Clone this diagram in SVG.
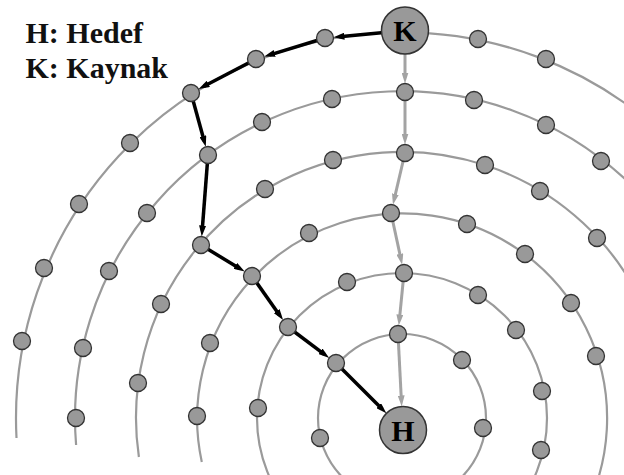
<svg xmlns="http://www.w3.org/2000/svg" width="624" height="475" viewBox="0 0 624 475">
  <style>
    .ring { fill: none; stroke: #9a9a9a; stroke-width: 2.2; }
    .blk { fill: none; stroke: #000; stroke-width: 3.5; marker-end: url(#headBlack); }
    .gry { fill: none; stroke: #a3a3a3; stroke-width: 3; marker-end: url(#headGray); }
    .n { fill: #999; stroke: #333; stroke-width: 1.3; }
    .big { fill: #999; stroke: #333; stroke-width: 1.5; }
    .bigtxt { font-family: "Liberation Serif", "Times New Roman", serif; font-weight: bold; font-size: 30px; fill: #000; text-anchor: middle; }
    .lbl { font-family: "Liberation Serif", "Times New Roman", serif; font-weight: bold; font-size: 30px; fill: #111; }
  </style>
  <defs>
    <marker id="headBlack" viewBox="0 0 11 7" refX="5" refY="3.5" markerWidth="11" markerHeight="7" markerUnits="userSpaceOnUse" orient="auto">
      <path d="M0,0 L11,3.5 L0,7 z" fill="#000"/>
    </marker>
    <marker id="headGray" viewBox="0 0 11 7" refX="5" refY="3.5" markerWidth="11" markerHeight="7" markerUnits="userSpaceOnUse" orient="auto">
      <path d="M0,0 L11,3.5 L0,7 z" fill="#a3a3a3"/>
    </marker>
  </defs>

  <rect width="624" height="475" fill="#fff"/>

  <!-- concentric rings around (402,418) -->
  <g id="rings">
    <circle class="ring" cx="402" cy="418" r="84"/>
    <circle class="ring" cx="402" cy="418" r="145"/>
    <path class="ring" d="M201.8,462 A205,205 0 1 1 581.3,518"/>
    <path class="ring" d="M138.9,457 A266,266 0 1 1 668,418"/>
    <path class="ring" d="M76.1,445 A327,327 0 1 1 729,418"/>
    <path class="ring" d="M16.5,438 A386,386 0 1 1 788,418"/>
  </g>

  <!-- connectors: black route and gray straight route -->
  <g id="connectors">
    <line class="blk" x1="405" y1="30.5" x2="339.4" y2="36.7"/>
    <line class="blk" x1="325" y1="38" x2="269.9" y2="54.8"/>
    <line class="blk" x1="256" y1="59" x2="203.9" y2="86.2"/>
    <line class="blk" x1="191" y1="93" x2="204.2" y2="141"/>
    <line class="blk" x1="208" y1="155" x2="202.2" y2="230.5"/>
    <line class="blk" x1="201" y1="245" x2="239.6" y2="268.5"/>
    <line class="blk" x1="252" y1="276" x2="279.6" y2="315.2"/>
    <line class="blk" x1="288" y1="327" x2="324.4" y2="354.3"/>
    <line class="blk" x1="336" y1="363" x2="382.1" y2="409.1"/>

    <line class="gry" x1="405" y1="30.5" x2="405" y2="77.5"/>
    <line class="gry" x1="405" y1="92" x2="405" y2="138.5"/>
    <line class="gry" x1="405" y1="153" x2="394.3" y2="198.9"/>
    <line class="gry" x1="391" y1="213" x2="400.9" y2="258.8"/>
    <line class="gry" x1="404" y1="273" x2="399.4" y2="319.6"/>
    <line class="gry" x1="398" y1="334" x2="401.4" y2="400.5"/>
  </g>

  <!-- ring 6 nodes -->
  <g id="n6a"><circle class="n" cx="22" cy="341" r="8.5"/></g>
  <g id="n6b"><circle class="n" cx="44" cy="268" r="8.5"/></g>
  <g id="n6c"><circle class="n" cx="79" cy="204" r="8.5"/></g>
  <g id="n6d"><circle class="n" cx="130" cy="143" r="8.5"/></g>
  <g id="n6e"><circle class="n" cx="191" cy="93" r="8.5"/></g>
  <g id="n6f"><circle class="n" cx="256" cy="59" r="8.5"/></g>
  <g id="n6g"><circle class="n" cx="325" cy="38" r="8.5"/></g>
  <g id="n6h"><circle class="n" cx="478" cy="39" r="8.5"/></g>
  <g id="n6i"><circle class="n" cx="546" cy="59" r="8.5"/></g>

  <!-- ring 5 nodes -->
  <g id="n5a"><circle class="n" cx="76" cy="418" r="8.5"/></g>
  <g id="n5b"><circle class="n" cx="83" cy="348" r="8.5"/></g>
  <g id="n5c"><circle class="n" cx="109" cy="271" r="8.5"/></g>
  <g id="n5d"><circle class="n" cx="147" cy="213" r="8.5"/></g>
  <g id="n5e"><circle class="n" cx="208" cy="155" r="8.5"/></g>
  <g id="n5f"><circle class="n" cx="262" cy="122" r="8.5"/></g>
  <g id="n5g"><circle class="n" cx="332" cy="99" r="8.5"/></g>
  <g id="n5h"><circle class="n" cx="405" cy="92" r="8.5"/></g>
  <g id="n5i"><circle class="n" cx="474" cy="100" r="8.5"/></g>
  <g id="n5j"><circle class="n" cx="546" cy="125" r="8.5"/></g>
  <g id="n5k"><circle class="n" cx="601" cy="161" r="8.5"/></g>

  <!-- ring 4 nodes -->
  <g id="n4a"><circle class="n" cx="138" cy="383" r="8.5"/></g>
  <g id="n4b"><circle class="n" cx="161" cy="304" r="8.5"/></g>
  <g id="n4c"><circle class="n" cx="201" cy="245" r="8.5"/></g>
  <g id="n4d"><circle class="n" cx="265" cy="189" r="8.5"/></g>
  <g id="n4e"><circle class="n" cx="333" cy="160" r="8.5"/></g>
  <g id="n4f"><circle class="n" cx="405" cy="153" r="8.5"/></g>
  <g id="n4g"><circle class="n" cx="485" cy="165" r="8.5"/></g>
  <g id="n4h"><circle class="n" cx="540" cy="191" r="8.5"/></g>
  <g id="n4i"><circle class="n" cx="597" cy="238" r="8.5"/></g>

  <!-- ring 3 nodes -->
  <g id="n3a"><circle class="n" cx="197" cy="416" r="8.5"/></g>
  <g id="n3b"><circle class="n" cx="210" cy="343" r="8.5"/></g>
  <g id="n3c"><circle class="n" cx="252" cy="276" r="8.5"/></g>
  <g id="n3d"><circle class="n" cx="309" cy="233" r="8.5"/></g>
  <g id="n3e"><circle class="n" cx="391" cy="213" r="8.5"/></g>
  <g id="n3f"><circle class="n" cx="467" cy="224" r="8.5"/></g>
  <g id="n3g"><circle class="n" cx="525" cy="254" r="8.5"/></g>
  <g id="n3h"><circle class="n" cx="571" cy="303" r="8.5"/></g>
  <g id="n3i"><circle class="n" cx="596" cy="356" r="8.5"/></g>

  <!-- ring 2 nodes -->
  <g id="n2a"><circle class="n" cx="258" cy="408" r="8.5"/></g>
  <g id="n2b"><circle class="n" cx="288" cy="327" r="8.5"/></g>
  <g id="n2c"><circle class="n" cx="347" cy="282" r="8.5"/></g>
  <g id="n2d"><circle class="n" cx="404" cy="273" r="8.5"/></g>
  <g id="n2e"><circle class="n" cx="478" cy="295" r="8.5"/></g>
  <g id="n2f"><circle class="n" cx="516" cy="330" r="8.5"/></g>
  <g id="n2g"><circle class="n" cx="542" cy="391" r="8.5"/></g>
  <g id="n2h"><circle class="n" cx="541" cy="450" r="8.5"/></g>

  <!-- ring 1 nodes -->
  <g id="n1a"><circle class="n" cx="320" cy="438" r="8.5"/></g>
  <g id="n1b"><circle class="n" cx="336" cy="363" r="8.5"/></g>
  <g id="n1c"><circle class="n" cx="398" cy="334" r="8.5"/></g>
  <g id="n1d"><circle class="n" cx="462" cy="360" r="8.5"/></g>
  <g id="n1e"><circle class="n" cx="483" cy="428" r="8.5"/></g>

  <!-- source and target -->
  <g id="K">
    <circle class="big" cx="405" cy="30.5" r="23.5"/>
    <text class="bigtxt" x="405" y="41">K</text>
  </g>
  <g id="H">
    <circle class="big" cx="403" cy="430" r="23.5"/>
    <text class="bigtxt" x="403" y="440.5">H</text>
  </g>

  <!-- legend -->
  <g id="legend">
    <text class="lbl" x="25.5" y="43">H: Hedef</text>
    <text class="lbl" x="25.5" y="78">K: Kaynak</text>
  </g>
</svg>
